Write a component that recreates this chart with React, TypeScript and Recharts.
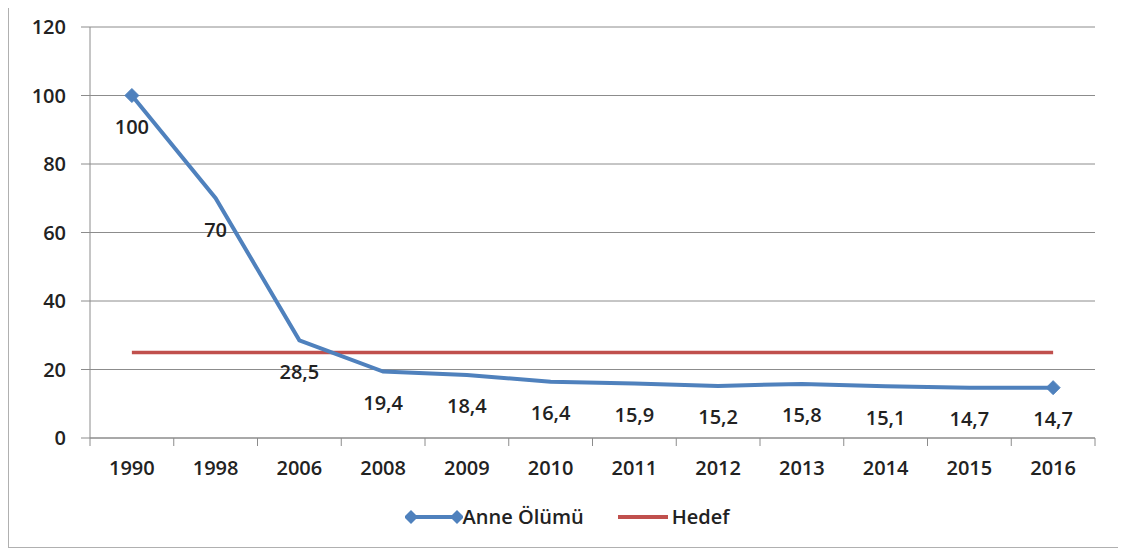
import React from 'react';
import { LineChart, Line, XAxis, YAxis, CartesianGrid, LabelList } from 'recharts';

const years = ['1990', '1998', '2006', '2008', '2009', '2010', '2011', '2012', '2013', '2014', '2015', '2016'];
const anneOlumu = [100, 70, 28.5, 19.4, 18.4, 16.4, 15.9, 15.2, 15.8, 15.1, 14.7, 14.7];
const hedef = [25, 25, 25, 25, 25, 25, 25, 25, 25, 25, 25, 25];
const yTicks = [0, 20, 40, 60, 80, 100, 120];

const data = years.map((y, i) => ({ year: y, anne: anneOlumu[i], hedef: hedef[i] }));

const FONT = '"Open Sans", sans-serif';
const FS = 20;
const FW = 600;
const TEXT = '#222';
const BLUE = '#4F81BD';
const RED = '#C0504D';
const GRID = '#8c8c8c';
const W = 1110;
const H = 544;
const M = { top: 24, right: 24, left: 0, bottom: 69 };
const Y_AXIS_W = 81;
const band = (W - M.right - M.left - Y_AXIS_W) / years.length;

const fmt = (v: number) => String(v).replace('.', ',');

const XTick = (props: any) => {
  const { x, y, payload, index } = props;
  return (
    <g>
      <line x1={x - band / 2} y1={y - 8} x2={x - band / 2} y2={y} stroke={GRID} />
      {index === years.length - 1 && (
        <line x1={x + band / 2} y1={y - 8} x2={x + band / 2} y2={y} stroke={GRID} />
      )}
      <text x={x} y={y + 21} textAnchor="middle" dominantBaseline="central" fontFamily={FONT} fontSize={FS} fontWeight={FW} fill={TEXT}>
        {payload.value}
      </text>
    </g>
  );
};

const Diamond = (props: any) => {
  const { cx, cy, index } = props;
  if (index !== 0 && index !== years.length - 1) return <g key={index} />;
  const s = 7;
  return (
    <path key={index} d={`M${cx},${cy - s}L${cx + s},${cy}L${cx},${cy + s}L${cx - s},${cy}Z`} fill={BLUE} stroke={BLUE} />
  );
};

const ValueLabel = (props: any) => {
  const { x, y, value } = props;
  return (
    <text x={x} y={y + 31} textAnchor="middle" dominantBaseline="central" fontFamily={FONT} fontSize={FS} fontWeight={FW} fill={TEXT}>
      {fmt(value)}
    </text>
  );
};

export default function App() {
  return (
    <div style={{ position: 'relative', width: W, height: H, border: '1px solid #b0b0b0', marginTop: -6, background: '#fff' }}>
      <LineChart width={W} height={H} data={data} margin={M}>
        <CartesianGrid vertical={false} stroke={GRID} strokeWidth={1} />
        <XAxis
          dataKey="year"
          stroke={GRID}
          tickLine={false}
          tick={<XTick />}
          interval={0}
          height={40}
          padding={{ left: band / 2, right: band / 2 }}
        />
        <YAxis
          domain={[0, 120]}
          ticks={yTicks}
          width={Y_AXIS_W}
          stroke={GRID}
          tickSize={9}
          tickMargin={15}
          tick={{ fontFamily: FONT, fontSize: FS, fontWeight: FW, fill: TEXT }}
          interval={0}
        />
        <Line dataKey="hedef" stroke={RED} strokeWidth={3.5} dot={false} isAnimationActive={false} />
        <Line dataKey="anne" stroke={BLUE} strokeWidth={4} dot={<Diamond />} activeDot={false} isAnimationActive={false}>
          <LabelList dataKey="anne" content={<ValueLabel />} />
        </Line>
      </LineChart>
      <div
        style={{
          position: 'absolute',
          top: 500,
          left: 0,
          width: W,
          display: 'flex',
          justifyContent: 'center',
          alignItems: 'center',
          fontFamily: FONT,
          fontSize: 20,
          fontWeight: FW,
          color: TEXT,
        }}
      >
        <svg width={58} height={20} style={{ marginLeft: 6 }}>
          <line x1={6} y1={10} x2={52} y2={10} stroke={BLUE} strokeWidth={4} />
          <path d="M6,3L13,10L6,17L-1,10Z" fill={BLUE} />
          <path d="M52,3L59,10L52,17L45,10Z" fill={BLUE} />
        </svg>
        <span style={{ marginRight: 30 }}>Anne Ölümü</span>
        <svg width={58} height={20}>
          <line x1={4} y1={10} x2={54} y2={10} stroke={RED} strokeWidth={4} />
        </svg>
        <span>Hedef</span>
      </div>
    </div>
  );
}
